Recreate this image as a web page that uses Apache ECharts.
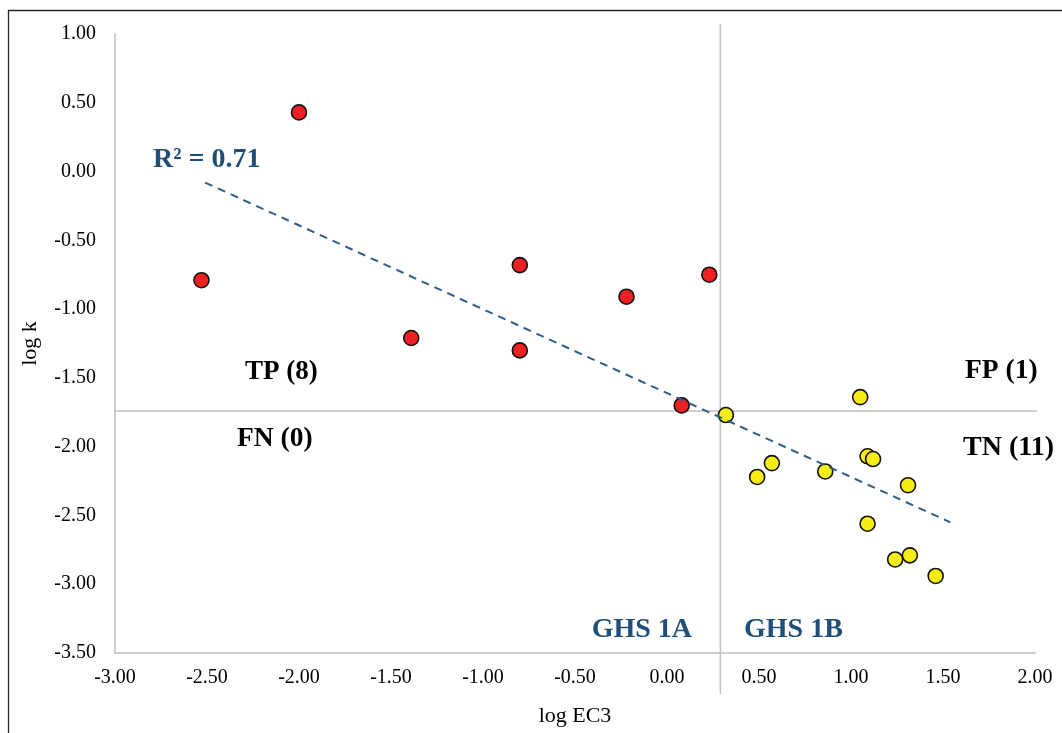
<!DOCTYPE html>
<html>
<head>
<meta charset="utf-8">
<script src="https://cdn.jsdelivr.net/npm/echarts@6/dist/echarts.min.js"></script>
<style>
  html, body { margin: 0; padding: 0; background: #ffffff; }
  #chart { width: 1062px; height: 733px; }
</style>
</head>
<body>
<div id="chart"></div>
<script>
// Sensitisers (positive, red) and non-sensitisers (yellow): log EC3 vs log k
const positiveLogEC3 = [-2.00, -2.53, -1.39, -0.80, -0.80, -0.22, 0.23, 0.08];
const positiveLogK   = [0.43, -0.79, -1.21, -0.68, -1.30, -0.91, -0.75, -1.70];
const negativeLogEC3 = [0.32, 1.05, 1.09, 1.12, 0.57, 0.49, 0.86, 1.31, 1.09, 1.24, 1.32, 1.46];
const negativeLogK   = [-1.77, -1.64, -2.07, -2.09, -2.12, -2.22, -2.18, -2.28, -2.56, -2.82, -2.79, -2.94];

// Linear trend line end points
const trendLogEC3 = [-2.51, 1.54];
const trendLogK   = [-0.08, -2.55];

// Classification thresholds (GHS 1A / 1B cut-off and log k cut-off) with drawn extents
const cutoffLogEC3 = 0.29;
const cutoffLogEC3Span = [1.07, -3.80];
const cutoffLogK = -1.74;
const cutoffLogKSpan = [-3.125, 2.10];

// Axis ranges and tick step
const xRange = [-3, 2];
const yRange = [-3.5, 1];
const tickStep = 0.5;

const zip = (xs, ys) => xs.map((x, i) => [x, ys[i]]);

const serif = '"Liberation Serif", "Times New Roman", serif';
const navy = '#1F4E79';
const axisGray = '#BFBFBF';

const chart = echarts.init(document.getElementById('chart'), null, { renderer: 'canvas' });

function label(text, x, y, size, color, align) {
  return {
    type: 'text', x: x, y: y, z: 50,
    style: {
      text: text, fill: color,
      font: 'bold ' + size + 'px ' + serif,
      align: align || 'left', verticalAlign: 'middle'
    }
  };
}

chart.setOption({
  animation: false,
  backgroundColor: '#ffffff',
  grid: { left: 115, right: 27, top: 34, bottom: 80, containLabel: false, outerBoundsMode: 'none' },
  xAxis: {
    type: 'value', min: xRange[0], max: xRange[1], interval: tickStep,
    name: 'log EC3', nameLocation: 'middle', nameGap: 52,
    nameTextStyle: { fontFamily: serif, fontSize: 22, color: '#000' },
    axisLine: { show: true, onZero: false, lineStyle: { color: axisGray, width: 1.5 } },
    axisTick: { show: false },
    splitLine: { show: false },
    axisLabel: { fontFamily: serif, fontSize: 20, color: '#000', margin: 15,
                 formatter: v => v.toFixed(2) }
  },
  yAxis: {
    type: 'value', min: yRange[0], max: yRange[1], interval: tickStep,
    name: 'log k', nameLocation: 'middle', nameGap: 74, nameRotate: 90,
    nameTextStyle: { fontFamily: serif, fontSize: 22, color: '#000' },
    axisLine: { show: true, onZero: false, lineStyle: { color: axisGray, width: 1.5 } },
    axisTick: { show: false },
    splitLine: { show: false },
    axisLabel: { fontFamily: serif, fontSize: 20, color: '#000', margin: 19,
                 padding: [3, 0, 0, 0],
                 formatter: v => v.toFixed(2) }
  },
  series: [
    {
      name: 'cutoff EC3', type: 'line', silent: true, clip: false, z: 1,
      symbol: 'none', data: cutoffLogEC3Span.map(y => [cutoffLogEC3, y]),
      lineStyle: { color: axisGray, width: 1.5 }
    },
    {
      name: 'cutoff k', type: 'line', silent: true, clip: false, z: 1,
      symbol: 'none', data: cutoffLogKSpan.map(x => [x, cutoffLogK]),
      lineStyle: { color: axisGray, width: 1.5 }
    },
    {
      name: 'positive', type: 'scatter', z: 3, symbolSize: 15,
      data: zip(positiveLogEC3, positiveLogK),
      itemStyle: { color: '#EE2024', borderColor: '#111', borderWidth: 1.6, opacity: 1 }
    },
    {
      name: 'negative', type: 'scatter', z: 3, symbolSize: 15,
      data: zip(negativeLogEC3, negativeLogK),
      itemStyle: { color: '#F7EC13', borderColor: '#111', borderWidth: 1.6, opacity: 1 }
    },
    {
      name: 'trend', type: 'line', silent: true, clip: false, z: 5,
      symbol: 'none', data: zip(trendLogEC3, trendLogK),
      lineStyle: { color: '#2E5D8A', width: 2, type: [8, 6] }
    }
  ],
  graphic: [
    {
      type: 'rect', z: 0, silent: true,
      shape: { x: 8.5, y: 10.5, width: 1100, height: 800 },
      style: { fill: 'none', stroke: '#262626', lineWidth: 1.3 }
    },
    label('R² = 0.71', 153, 160, 28, navy),
    label('TP (8)', 245, 372, 27, '#000'),
    label('FN (0)', 237, 439, 27.5, '#000'),
    label('FP (1)', 965, 371, 27.5, '#000'),
    label('TN (11)', 963, 448, 28, '#000'),
    label('GHS 1A', 692, 630, 28, navy, 'right'),
    label('GHS 1B', 744, 630, 28, navy)
  ]
});
</script>
</body>
</html>
